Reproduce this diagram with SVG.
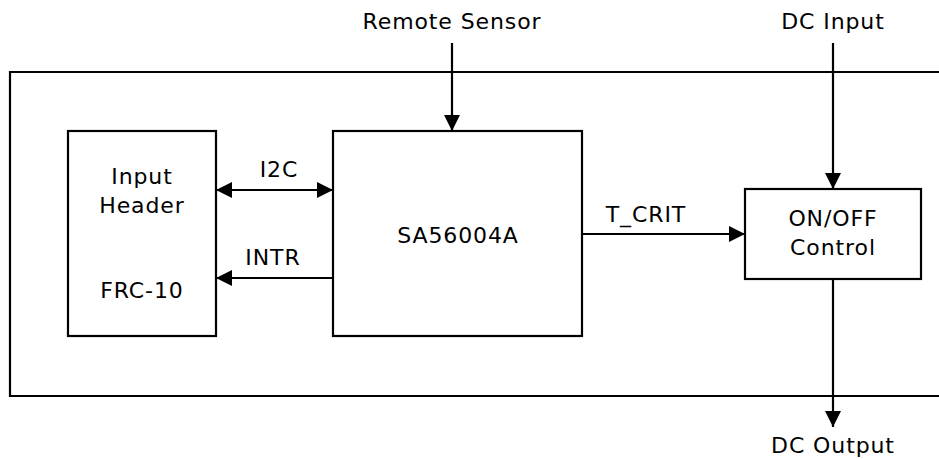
<svg xmlns="http://www.w3.org/2000/svg" width="939" height="459" viewBox="0 0 939 459">
<style>
.box{fill:#fff;stroke:#000;stroke-width:2.2}
.ln{fill:none;stroke:#000;stroke-width:2.2}
text{font-family:"DejaVu Sans",sans-serif;font-size:22px;letter-spacing:0.9px;fill:#000;text-anchor:middle}
</style>
<defs>
<marker id="a" viewBox="0 0 16 16" refX="16" refY="8" markerWidth="16" markerHeight="16" markerUnits="userSpaceOnUse" orient="auto-start-reverse">
<path d="M0,0 L16,8 L0,16 Z" fill="#000"/>
</marker>
</defs>
<g id="board">
<path class="ln" d="M945,72 H10 V396 H945"/>
</g>
<g id="input-header">
<rect class="box" x="68" y="131" width="148" height="205"/>
<text x="142" y="184">Input</text>
<text x="142" y="213">Header</text>
<text x="142" y="298">FRC-10</text>
</g>
<g id="sa56004a">
<rect class="box" x="333" y="131" width="249" height="205"/>
<text x="458" y="243">SA56004A</text>
</g>
<g id="onoff">
<rect class="box" x="745" y="189" width="176" height="90"/>
<text x="833" y="226">ON/OFF</text>
<text x="833" y="255">Control</text>
</g>
<g id="labels">
<text x="452" y="29">Remote Sensor</text>
<text x="833" y="29">DC Input</text>
<text x="833" y="453">DC Output</text>
<text x="279" y="177">I2C</text>
<text x="273" y="265">INTR</text>
<text x="646" y="222">T_CRIT</text>
</g>
<g id="connectors">
<line class="ln" x1="452" y1="43" x2="452" y2="131" marker-end="url(#a)"/>
<line class="ln" x1="833" y1="43" x2="833" y2="189" marker-end="url(#a)"/>
<line class="ln" x1="833" y1="279" x2="833" y2="427" marker-end="url(#a)"/>
<line class="ln" x1="216" y1="190" x2="333" y2="190" marker-start="url(#a)" marker-end="url(#a)"/>
<line class="ln" x1="333" y1="278" x2="216" y2="278" marker-end="url(#a)"/>
<line class="ln" x1="582" y1="234" x2="745" y2="234" marker-end="url(#a)"/>
</g>
</svg>
